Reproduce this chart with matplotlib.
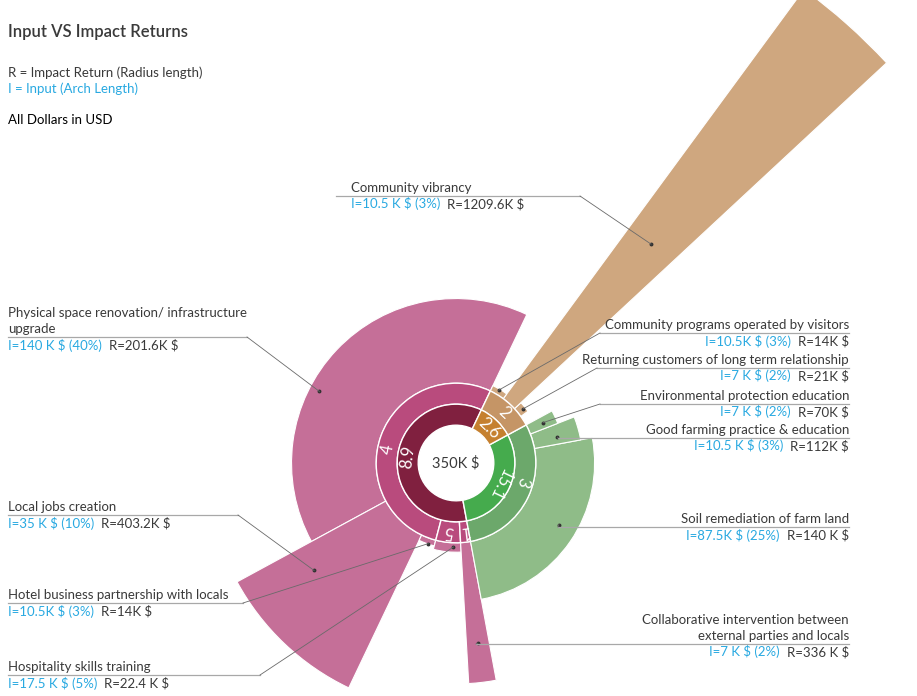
import numpy as np
import matplotlib
matplotlib.use('Agg')
import matplotlib.pyplot as plt
from matplotlib.lines import Line2D

plt.rcParams['font.family'] = ['Lato', 'DejaVu Sans']

# ---- data (K$) ----
names = ['Physical space renovation/ infrastructure\nupgrade',
         'Local jobs creation',
         'Hotel business partnership with locals',
         'Hospitality skills training',
         'Collaborative intervention between\nexternal parties and locals',
         'Soil remediation of farm land',
         'Good farming practice & education',
         'Environmental protection education',
         'Returning customers of long term relationship',
         'Community vibrancy',
         'Community programs operated by visitors']
inputs = [140, 35, 10.5, 17.5, 7, 87.5, 10.5, 7, 7, 10.5, 10.5]
returns = [201.6, 403.2, 14, 22.4, 336, 140, 112, 70, 21, 1209.6, 14]
groups = [0, 0, 0, 0, 0, 1, 1, 1, 2, 2, 2]
input_text = ['I=140 K $ (40%)', 'I=35 K $ (10%)', 'I=10.5K $ (3%)', 'I=17.5 K $ (5%)',
              'I=7 K $ (2%)', 'I=87.5K $ (25%)', 'I=10.5 K $ (3%)', 'I=7 K $ (2%)',
              'I=7 K $ (2%)', 'I=10.5 K $ (3%)', 'I=10.5K $ (3%)']
return_text = ['R=201.6K $', 'R=403.2K $', 'R=14K $', 'R=22.4 K $', 'R=336 K $',
               'R=140 K $', 'R=112K $', 'R=70K $', 'R=21K $', 'R=1209.6K $', 'R=14K $']
total = 350

# inner ring (group totals) and second ring (sub parts)
ring1_inputs = [210, 105, 35]
ring1_labels = ['8.9', '15.1', '2.6']
ring2_inputs = [185.5, 17.5, 7, 105, 35]
ring2_groups = [0, 0, 0, 1, 2]
ring2_labels = ['4', '5', '1', '3', '2']

# ---- style / layout ----
W, H = 917, 696
CX, CY = 456, 463            # centre in px (from top)
PX_PER_K = 0.42
HOLE, R1, R2 = 90, 140, 190  # radii in K$ units
START = 64.5                 # degrees, counter-clockwise from east
outer_col = ['#c56f98', '#8fbc88', '#cfa77f']
ring2_col = ['#b94b7d', '#6ca86b', '#c59566']
ring1_col = ['#80203f', '#45ab4d', '#c5802f']
BLUE = '#29a9e1'
DARK = '#3a3a3a'
ring2_label_theta = [169, None, None, 344, None]

# label layout: text x, alignment, underline y, underline x-range, elbow x, anchor (angle frac, radius frac)
lab_x = [8, 8, 8, 8, 849, 849, 849, 849, 849, 351, 849]
lab_ha = ['left'] * 4 + ['right'] * 5 + ['left', 'right']
ul_y = [337, 515, 603, 675, 644, 527, 438, 404, 368, 196, 333]
ul_x = [(8, 247), (8, 238), (8, 243), (8, 260), (476, 849), (558, 849), (558, 849),
        (600, 849), (597, 849), (336, 580), (600, 849)]
elbow = [247, 238, 243, 260, 476, 558, 558, 600, 597, 580, 600]
anchor = [(0.61, 0.88), (0.24, 0.58), (0.6, 0.93), (0.72, 0.45), (0.5, 0.72),
          (0.54, 0.68), (0.35, 0.53), (0.5, 0.55), (0.45, 0.7), (0.5, 0.42), (0.55, 0.78)]

fig = plt.figure(figsize=(W / 100, H / 100), dpi=100)
RAD = 650
ax = fig.add_axes([(CX - RAD) / W, (H - CY - RAD) / H, 2 * RAD / W, 2 * RAD / H],
                  projection='polar')
ax.set_theta_zero_location('E')
ax.set_ylim(0, RAD / PX_PER_K)
ax.set_axis_off()

deg = 360 / total
g_start = START + deg * np.concatenate([[0], np.cumsum(ring1_inputs)[:-1]])
g_end = g_start + deg * np.array(ring1_inputs)

# outer wedges, flush to the end of their group
starts = []
for i in range(len(inputs)):
    rest = sum(inputs[j] for j in range(i, len(inputs)) if groups[j] == groups[i])
    starts.append(g_end[groups[i]] - deg * rest)
starts = np.array(starts)
widths = deg * np.array(inputs)
ax.bar(np.radians(starts + widths / 2), returns, width=np.radians(widths), bottom=R2,
       color=[outer_col[g] for g in groups], edgecolor='white', linewidth=0.8)

# ring 2
r2_start = START + deg * np.concatenate([[0], np.cumsum(ring2_inputs)[:-1]])
r2_w = deg * np.array(ring2_inputs)
ax.bar(np.radians(r2_start + r2_w / 2), R2 - R1, width=np.radians(r2_w), bottom=R1,
       color=[ring2_col[g] for g in ring2_groups], edgecolor='white', linewidth=1)
for k, lab in enumerate(ring2_labels):
    th = ring2_label_theta[k] if ring2_label_theta[k] is not None else r2_start[k] + r2_w[k] / 2
    ax.text(np.radians(th), (R1 + R2) / 2, lab, color='white', fontsize=12,
            rotation=th - 90, rotation_mode='anchor', ha='center', va='center')

# ring 1
ax.bar(np.radians(g_start + (g_end - g_start) / 2), R1 - HOLE, width=np.radians(g_end - g_start),
       bottom=HOLE, color=ring1_col, edgecolor='white', linewidth=1)
for k, lab in enumerate(ring1_labels):
    th = g_start[k] + (g_end[k] - g_start[k]) / 2
    ax.text(np.radians(th), (HOLE + R1) / 2, lab, color='white', fontsize=12,
            rotation=th - 90, rotation_mode='anchor', ha='center', va='center')

ax.text(0, 0, '350K $', ha='center', va='center', fontsize=10.5, color=DARK)

# header
def fx(x):
    return x / W

def fy(y):
    return 1 - y / H

fig.text(fx(8), fy(32), 'Input VS Impact Returns', fontsize=12, weight='semibold', color=DARK, va='center')
fig.text(fx(8), fy(73), 'R = Impact Return (Radius length)', fontsize=9.5, color=DARK, va='center')
fig.text(fx(8), fy(89), 'I = Input (Arch Length)', fontsize=9.5, color=BLUE, va='center')
fig.text(fx(8), fy(120), 'All Dollars in USD', fontsize=9.5, color='black', va='center')

fig.canvas.draw()
renderer = fig.canvas.get_renderer()
inv = fig.transFigure.inverted()

for i in range(len(names)):
    # anchor point in the wedge
    th = starts[i] + anchor[i][0] * widths[i]
    r = R2 + anchor[i][1] * returns[i]
    ax.plot([np.radians(th)], [r], marker='o', ms=1.8, color='#333333')
    dx, dy = ax.transData.transform((np.radians(th), r))
    dot = inv.transform((dx, dy))
    u = ul_y[i]
    fig.add_artist(Line2D([fx(ul_x[i][0]), fx(ul_x[i][1])], [fy(u), fy(u)],
                          color='#a8a8a8', lw=0.9))
    fig.add_artist(Line2D([fx(elbow[i]), dot[0]], [fy(u), dot[1]], color='#6a6a6a', lw=0.6))

    lines = names[i].split('\n')
    for k, ln in enumerate(lines):
        yy = u - 8 - 16 * (len(lines) - 1 - k)
        fig.text(fx(lab_x[i]), fy(yy), ln, fontsize=9.5, color=DARK, ha=lab_ha[i], va='center')
    yy = u + 8
    if lab_ha[i] == 'left':
        t = fig.text(fx(lab_x[i]), fy(yy), input_text[i], fontsize=9.5, color=BLUE,
                     ha='left', va='center')
        bb = t.get_window_extent(renderer)
        fig.text(fx(bb.x1 + 7), fy(yy), return_text[i], fontsize=9.5, color=DARK,
                 ha='left', va='center')
    else:
        t = fig.text(fx(lab_x[i]), fy(yy), return_text[i], fontsize=9.5, color=DARK,
                     ha='right', va='center')
        bb = t.get_window_extent(renderer)
        fig.text(fx(bb.x0 - 7), fy(yy), input_text[i], fontsize=9.5, color=BLUE,
                 ha='right', va='center')

fig.savefig('out.png', dpi=100, facecolor='white')
